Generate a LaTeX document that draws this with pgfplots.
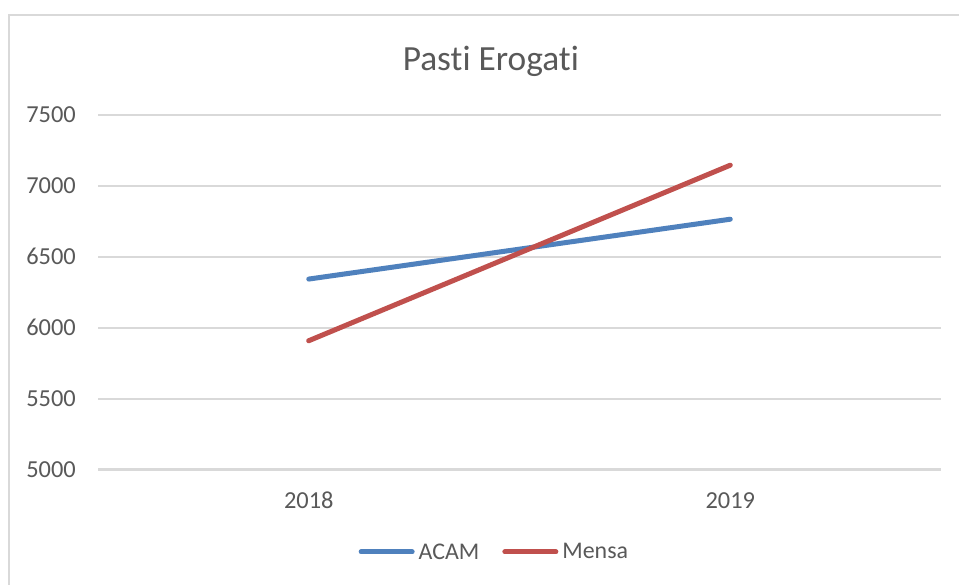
\documentclass[border=0pt]{standalone}
\usepackage{pgfplots}
\pgfplotsset{compat=1.18}
\usepackage{fontspec}
\setmainfont[Ligatures={NoCommon,NoContextual}]{Carlito}
\definecolor{gridgray}{HTML}{D9D9D9}
\definecolor{txtgray}{HTML}{595959}
\definecolor{acam}{HTML}{4F81BD}
\definecolor{mensa}{HTML}{C0504D}
\begin{document}
\begin{tikzpicture}
\path[use as bounding box] (0,0) rectangle (959bp,585bp);
\fill[white] (0,0) rectangle (959bp,585bp);
\draw[gridgray, line width=2bp] (9bp,0) -- (9bp,570bp) -- (970bp,570bp);
\node[anchor=base, text=txtgray, font=\fontsize{35.5}{40}\selectfont] at (490.8bp,514.3bp) {Past\kern0pt i Erogat\kern0pt i};
\begin{axis}[
  at={(98bp,115.5bp)}, anchor=south west,
  scale only axis, width=843bp, height=354.5bp,
  xmin=-0.5, xmax=1.5, ymin=5000, ymax=7500,
  xtick={0,1}, xticklabels={2018,2019},
  ytick={5000,5500,6000,6500,7000,7500},
  ymajorgrids, major grid style={gridgray, line width=2bp},
  axis line style={draw=none},
  major tick length=0pt,
  tick style={draw=none},
  /pgf/number format/assume math mode=true,
  /pgf/number format/set thousands separator={},
  tick label style={inner sep=0pt, text=txtgray, font=\fontsize{24.5}{28}\selectfont},
  yticklabel style={anchor=east, xshift=-22bp},
  xticklabel style={anchor=center, yshift=-31bp},
  legend columns=2,
  legend style={draw=none, fill=none, at={(0.469,-0.2327)}, anchor=center,
    font=\fontsize{24}{28}\selectfont, text=txtgray,
    nodes={inner sep=0pt},
    /tikz/every odd column/.append style={column sep=4bp},
    /tikz/every even column/.append style={column sep=23bp}},
  legend image code/.code={\draw[#1, line width=5bp, line cap=round] (2.5bp,0) -- (53.5bp,0);},
  clip=false,
]
\addplot[acam, line width=5bp, line cap=round, mark=none] coordinates {(0,6343) (1,6765)};
\addlegendentry{ACAM}
\addplot[mensa, line width=5bp, line cap=round, mark=none] coordinates {(0,5908) (1,7146)};
\addlegendentry{Mensa}
\end{axis}
\end{tikzpicture}
\end{document}
